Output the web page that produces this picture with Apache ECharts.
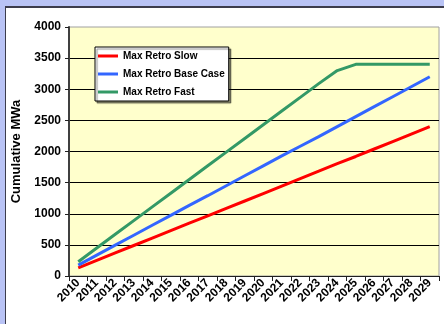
<!DOCTYPE html>
<html>
<head>
<meta charset="utf-8">
<script src="https://cdn.jsdelivr.net/npm/echarts@6/dist/echarts.min.js"></script>
<style>
  html, body { margin: 0; padding: 0; }
  body { width: 444px; height: 324px; background: #b9c3f5; position: relative; overflow: hidden; }
  #panel { position: absolute; left: 5px; top: 6px; width: 460px; height: 340px; background: #ffffff;
           border-left: 1px solid #3c3c4c; border-top: 2px solid #3c3c4c; box-sizing: border-box; }
  #chart { position: absolute; left: 0; top: 0; width: 444px; height: 324px; }
</style>
</head>
<body>
<div id="panel"></div>
<div id="chart"></div>
<script>
// Years on the category axis
const years = ['2010','2011','2012','2013','2014','2015','2016','2017','2018','2019',
               '2020','2021','2022','2023','2024','2025','2026','2027','2028','2029'];

// Cumulative MWa for each retrofit scenario
const slowValues = [130, 250, 370, 490, 610, 730, 850, 965, 1085, 1205,
                    1325, 1445, 1565, 1685, 1805, 1920, 2040, 2160, 2280, 2400];
const baseValues = [175, 335, 495, 655, 815, 975, 1135, 1290, 1450, 1610,
                    1770, 1930, 2085, 2240, 2400, 2560, 2720, 2880, 3040, 3200];
const fastValues = [230, 450, 670, 890, 1110, 1330, 1550, 1770, 1990, 2210,
                    2430, 2650, 2870, 3090, 3300, 3400, 3400, 3400, 3400, 3400];

const seriesNames = ['Max Retro Slow', 'Max Retro Base Case', 'Max Retro Fast'];
const seriesColors = ['#ff0000', '#3366ff', '#339966'];

const chart = echarts.init(document.getElementById('chart'), null, { renderer: 'canvas' });

const font = 'Liberation Sans, Arial, sans-serif';

chart.setOption({
  backgroundColor: 'transparent',
  animation: false,
  grid: {
    left: 69, top: 27, right: 5, bottom: 48,
    show: true,
    backgroundColor: '#ffffcc',
    borderColor: '#a0a0a0',
    borderWidth: 1
  },
  legend: {
    orient: 'vertical',
    left: 95, top: 47,
    padding: [3, 4, 3, 3],
    itemGap: 6,
    itemWidth: 20,
    itemHeight: 3,
    itemTextGap: 3,
    icon: 'rect',
    backgroundColor: '#ffffff',
    borderColor: '#000000',
    borderWidth: 1,
    borderRadius: 0,
    shadowColor: 'rgba(0,0,0,0.45)',
    shadowBlur: 1,
    shadowOffsetX: 2,
    shadowOffsetY: 2,
    textStyle: { fontFamily: font, fontWeight: 'bold', fontSize: 10, color: '#000', lineHeight: 12 },
    data: seriesNames
  },
  xAxis: {
    type: 'category',
    data: years,
    boundaryGap: true,
    axisLine: { lineStyle: { color: '#202020', width: 1 } },
    axisTick: { show: true, length: 5, alignWithLabel: false, lineStyle: { color: '#202020' } },
    axisLabel: {
      interval: 0, rotate: 45, margin: 5,
      fontFamily: font, fontWeight: 'bold', fontSize: 12, color: '#000'
    },
    splitLine: { show: false }
  },
  yAxis: {
    type: 'value',
    min: 0, max: 4000, interval: 500,
    name: 'Cumulative MWa',
    nameLocation: 'middle',
    nameRotate: 90,
    nameGap: 43,
    nameTextStyle: { fontFamily: font, fontWeight: 'bold', fontSize: 13, color: '#000' },
    axisLine: { show: true, lineStyle: { color: '#404040', width: 2 } },
    axisTick: { show: true, length: 4, lineStyle: { color: '#202020' } },
    axisLabel: {
      margin: 8, fontFamily: font, fontWeight: 'bold', fontSize: 12, color: '#000',
      formatter: v => String(v)
    },
    splitLine: { show: true, showMaxLine: false, lineStyle: { color: '#000000', width: 1 } }
  },
  series: [slowValues, baseValues, fastValues].map((vals, i) => ({
    name: seriesNames[i],
    type: 'line',
    data: vals,
    symbol: 'none',
    lineStyle: { color: seriesColors[i], width: 3 },
    itemStyle: { color: seriesColors[i] },
    z: 3 + i
  }))
});
</script>
</body>
</html>
